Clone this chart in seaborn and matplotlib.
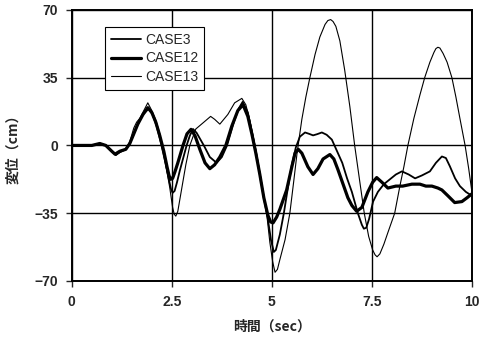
import matplotlib
matplotlib.use("Agg")
import matplotlib.pyplot as plt
import seaborn as sns

sns.set_style("white")
plt.rcParams['font.family'] = ['Liberation Sans', 'Noto Sans CJK JP', 'DejaVu Sans']

# CASE3 (medium line)
t_case3 = [0, 0.5, 0.7, 0.85, 1.0, 1.1, 1.2, 1.35, 1.45, 1.55, 1.65, 1.78, 1.92, 2.02,
           2.12, 2.22, 2.32, 2.42, 2.48, 2.52, 2.57, 2.63, 2.7, 2.87, 2.95, 3.03, 3.12,
           3.3, 3.45, 3.62, 3.75, 3.88, 4.05, 4.17, 4.27, 4.4, 4.5, 4.6, 4.7, 4.8, 4.9,
           4.98, 5.05, 5.1, 5.2, 5.3, 5.4, 5.5, 5.6, 5.7, 5.83, 5.93, 6.03, 6.13, 6.25,
           6.37, 6.5, 6.63, 6.76, 6.88, 7.0, 7.15, 7.25, 7.3, 7.36, 7.43, 7.53, 7.65,
           7.8, 7.95, 8.1, 8.25, 8.42, 8.58, 8.75, 8.95, 9.1, 9.25, 9.35, 9.45, 9.58,
           9.7, 9.85, 10.0]
v_case3 = [0, 0, 1, 0, -3, -5, -3.5, -2, 1, 6, 11, 16, 19, 16,
           10, 2, -7, -17, -22.5, -24.5, -23.5, -19, -13, 0, 5, 8.5, 6.5,
           0, -6, -9, -6, 0, 12, 19, 22.5, 17, 7, -3, -15, -27, -38,
           -49, -55, -54, -46, -35, -22, -10, -1, 4.5, 6.7, 6, 5.2, 5.8, 6.7,
           5.5, 3, -3, -9, -17, -24, -35, -41, -43, -42.5, -38, -29, -24,
           -20, -17.5, -15, -13.4, -15, -17, -15.5, -13.4, -9, -5.7, -6.5, -10.8, -17,
           -21, -24, -26]

# CASE12 (thick line)
t_case12 = [0, 0.5, 0.7, 0.85, 1.0, 1.08, 1.2, 1.35, 1.45, 1.55, 1.65, 1.78, 1.9, 2.0,
            2.1, 2.2, 2.3, 2.38, 2.43, 2.47, 2.52, 2.58, 2.65, 2.78, 2.88, 2.98, 3.08,
            3.2, 3.33, 3.45, 3.57, 3.7, 3.85, 4.0, 4.15, 4.28, 4.4, 4.5, 4.6, 4.7, 4.8,
            4.9, 4.97, 5.03, 5.12, 5.2, 5.37, 5.5, 5.58, 5.66, 5.75, 5.9, 6.03, 6.15,
            6.28, 6.45, 6.55, 6.65, 6.78, 6.9, 7.0, 7.12, 7.25, 7.4, 7.52, 7.62, 7.75,
            7.9, 8.1, 8.27, 8.5, 8.7, 8.85, 9.0, 9.15, 9.25, 9.4, 9.57, 9.75, 9.88, 10.0]
v_case12 = [0, 0, 1, 0, -3, -4.5, -3, -2, 1, 6, 11, 16, 19.5, 17,
            12, 5, -3, -11, -15.5, -17.5, -17, -13.5, -9, 0, 6, 8.3, 5,
            -2, -9, -12, -10, -6, 0, 10, 18, 21, 15, 6, -4, -15, -27,
            -36, -39.5, -40, -37, -33, -23, -11, -4, -2, -4, -11, -15, -12,
            -7, -4.7, -7, -12.4, -20, -27, -31, -34, -32, -24, -19, -16.6, -19,
            -22, -21, -21, -20, -20, -21, -21, -22, -23, -26, -29.5, -29, -27, -25]

# CASE13 (thin line)
t_case13 = [0, 0.5, 0.7, 0.85, 1.0, 1.1, 1.2, 1.35, 1.45, 1.55, 1.62, 1.7, 1.8, 1.9,
            2.0, 2.1, 2.2, 2.35, 2.45, 2.52, 2.56, 2.6, 2.65, 2.75, 2.85, 2.95, 3.1,
            3.3, 3.47, 3.57, 3.7, 3.9, 4.07, 4.25, 4.35, 4.45, 4.55, 4.65, 4.75, 4.87,
            4.95, 5.02, 5.08, 5.14, 5.2, 5.33, 5.45, 5.55, 5.63, 5.75, 5.85, 5.95, 6.08,
            6.2, 6.33, 6.4, 6.47, 6.53, 6.6, 6.7, 6.82, 6.95, 7.07, 7.2, 7.31, 7.42,
            7.52, 7.58, 7.63, 7.7, 7.8, 7.9, 8.07, 8.2, 8.3, 8.4, 8.55, 8.7, 8.82, 8.95,
            9.05, 9.1, 9.15, 9.2, 9.28, 9.38, 9.5, 9.6, 9.7, 9.83, 9.92, 10.0]
v_case13 = [0, 0, 1, 0, -3, -5, -3.5, -2, 2, 9, 12, 14, 18, 22,
            18, 13, 6, -10, -22, -32, -35.5, -36.5, -34, -22, -10, 0, 8.5,
            12, 15, 13.5, 11, 16, 22, 24.3, 21, 13, 3, -8, -20, -35,
            -50, -60, -65.5, -64, -59, -48.7, -35, -18, -4, 13.5, 25, 35, 47,
            56, 62.5, 64.5, 65, 64, 61.5, 54, 39, 20, 0, -19, -35, -47,
            -54, -56.5, -57.5, -56, -51, -45, -35, -21, -11, 0, 14, 26, 35, 43,
            48, 50, 50.7, 50.3, 47.5, 43, 35, 25, 14, 0, -12, -24]

x_ticks = [0, 2.5, 5, 7.5, 10]
x_ticklabels = ["0", "2.5", "5", "7.5", "10"]
y_ticks = [-70, -35, 0, 35, 70]

fig = plt.figure(figsize=(4.85, 3.41), dpi=100)
ax = fig.add_axes([0.148, 0.176, 0.825, 0.795])

sns.lineplot(x=t_case3, y=v_case3, ax=ax, color="black", lw=1.3, label="CASE3",
             sort=False, estimator=None)
sns.lineplot(x=t_case12, y=v_case12, ax=ax, color="black", lw=2.3, label="CASE12",
             sort=False, estimator=None)
sns.lineplot(x=t_case13, y=v_case13, ax=ax, color="black", lw=0.8, label="CASE13",
             sort=False, estimator=None)

ax.set_xlim(0, 10)
ax.set_ylim(-70, 70)
ax.set_xticks(x_ticks)
ax.set_xticklabels(x_ticklabels)
ax.set_yticks(y_ticks)
ax.grid(True, color="black", lw=1.0)
ax.tick_params(bottom=True, left=True, direction="out", length=4, width=1,
               labelsize=10, pad=6)
for lab in ax.get_xticklabels() + ax.get_yticklabels():
    lab.set_fontweight("bold")
for sp in ax.spines.values():
    sp.set_color("black")
    sp.set_linewidth(1.4)

ax.set_xlabel("時間（sec）", fontsize=10, fontweight="bold",
              family=["Noto Sans CJK JP", "DejaVu Sans"], labelpad=8)
ax.set_ylabel("変位（cm）", fontsize=10, fontweight="bold",
              family=["Noto Sans CJK JP", "DejaVu Sans"], labelpad=10)

leg = ax.legend(loc="upper left", bbox_to_anchor=(0.083, 0.937), borderaxespad=0,
                fontsize=10, frameon=True, fancybox=False, handlelength=2.2,
                handletextpad=0.3, labelspacing=0.35, borderpad=0.4)
leg.get_frame().set_edgecolor("black")
leg.get_frame().set_linewidth(0.8)
leg.get_frame().set_alpha(1)

fig.savefig("out.png", dpi=100)
